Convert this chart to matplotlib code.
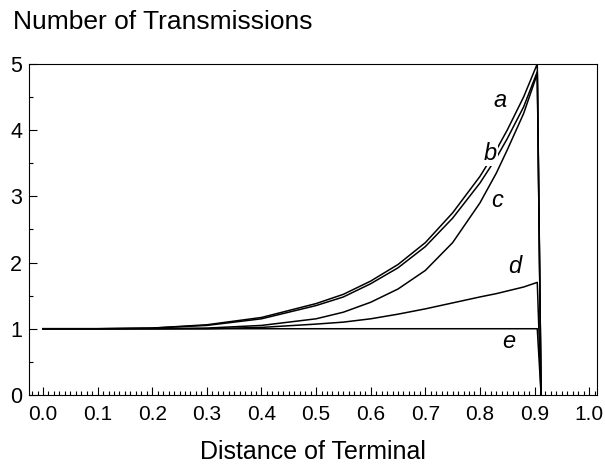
import matplotlib
matplotlib.use("Agg")
import matplotlib.pyplot as plt
from matplotlib.ticker import MultipleLocator, FormatStrFormatter

plt.rcParams['font.family'] = ['Liberation Sans', 'DejaVu Sans']

dist = [0.0, 0.1, 0.2, 0.3, 0.4, 0.5, 0.55, 0.6, 0.65, 0.7, 0.75, 0.8, 0.83, 0.85, 0.88, 0.905, 0.912]

curve_a = [1.0, 1.0, 1.01, 1.06, 1.17, 1.38, 1.52, 1.72, 1.97, 2.3, 2.75, 3.3, 3.7, 4.0, 4.5, 5.0, 0.0]
curve_b = [1.0, 1.0, 1.01, 1.05, 1.15, 1.35, 1.48, 1.68, 1.92, 2.24, 2.67, 3.2, 3.58, 3.87, 4.35, 4.88, 0.0]
curve_c = [1.0, 1.0, 1.0, 1.01, 1.05, 1.15, 1.25, 1.4, 1.6, 1.88, 2.3, 2.9, 3.35, 3.7, 4.25, 4.85, 0.0]
curve_d = [1.0, 1.0, 1.0, 1.0, 1.02, 1.07, 1.1, 1.15, 1.22, 1.3, 1.39, 1.48, 1.53, 1.57, 1.63, 1.7, 0.0]
curve_e = [1.0, 1.0, 1.0, 1.0, 1.0, 1.0, 1.0, 1.0, 1.0, 1.0, 1.0, 1.0, 1.0, 1.0, 1.0, 1.0, 0.0]

labels = ['a', 'b', 'c', 'd', 'e']
label_x = [0.836, 0.818, 0.831, 0.864, 0.853]
label_y = [4.44, 3.65, 2.94, 1.94, 0.8]

fig = plt.figure(figsize=(6.05, 4.73), dpi=100)
ax = fig.add_axes([0.048, 0.165, 0.939, 0.700])

for ys in [curve_a, curve_b, curve_c, curve_d, curve_e]:
    ax.plot(dist, ys, color='black', linewidth=1.1)

for name, lx, ly in zip(labels, label_x, label_y):
    t = ax.text(lx, ly, name, fontsize=17, style='italic', ha='center', va='center')
    if name == 'b':
        # the curves are broken around this label in the original
        t.set_bbox(dict(facecolor='white', edgecolor='none', pad=1))

ax.set_xlim(-0.0256, 1.0146)
ax.set_ylim(0, 5)
ax.xaxis.set_major_locator(MultipleLocator(0.1))
ax.xaxis.set_minor_locator(MultipleLocator(0.01))
ax.yaxis.set_major_locator(MultipleLocator(1))
ax.yaxis.set_minor_locator(MultipleLocator(0.5))
ax.xaxis.set_major_formatter(FormatStrFormatter('%.1f'))
ax.tick_params(which='both', direction='in', top=False, right=False, labelsize=15, width=0.8)
ax.tick_params(axis='x', which='major', length=6, pad=7)
ax.tick_params(axis='y', which='major', length=6, pad=5, labelsize=15.5)
ax.tick_params(which='minor', length=3)

ax.set_xlabel('Distance of Terminal', fontsize=18, labelpad=12)
fig.text(0.021, 0.953, 'Number of Transmissions', fontsize=19, ha='left', va='center')

fig.savefig('out.png', dpi=100)
